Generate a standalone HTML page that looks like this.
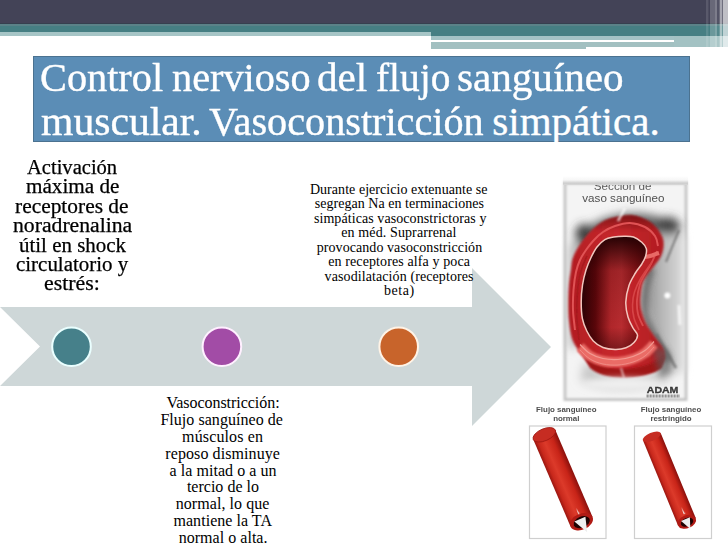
<!DOCTYPE html>
<html><head><meta charset="utf-8">
<style>
html,body{margin:0;padding:0;}
body{width:728px;height:546px;position:relative;overflow:hidden;background:#fff;font-family:"Liberation Serif",serif;}
.a{position:absolute;}
#dark{left:0;top:0;width:728px;height:24px;background:#434357;}
#teal1{left:0;top:24px;width:431px;height:8px;background:#467f83;}
#teal2{left:431px;top:24px;width:297px;height:12px;background:#467f83;}
#lt1{left:0;top:32px;width:431px;height:4px;background:#a6c5c6;}
#lt2{left:431px;top:36px;width:243px;height:3.5px;background:#a4c3c5;}
#lt3{left:431px;top:42px;width:155px;height:6.7px;background:#a2c0c1;}
#lt3b{left:586px;top:42px;width:88px;height:5px;background:#a2c0c1;}
#lt4{left:674px;top:36px;width:54px;height:11px;background:#a3c2c3;}
.st{position:absolute;top:0;height:48px;background:#fff;}
#title{left:33px;top:56px;width:655px;height:84px;box-sizing:content-box;background:#5b8db6;border:1px solid #4b7290;}
.ln{position:absolute;white-space:nowrap;transform-origin:0 0;}
</style></head><body>
<div class="a" id="dark"></div>
<div class="a" id="teal1"></div>
<div class="a" id="teal2"></div>
<div class="a" id="lt1"></div>
<div class="a" id="lt2"></div>
<div class="a" id="lt3"></div>
<div class="a" id="lt3b"></div>
<div class="a" id="lt4"></div>
<div class="a" style="left:0;top:22.5px;width:728px;height:1.5px;background:#36404f"></div>
<div class="a" style="left:0;top:24px;width:728px;height:1.5px;background:#5b8288"></div>
<div class="st" style="left:705.6px;width:2.1px;opacity:0.12"></div>
<div class="st" style="left:707.7px;width:1.8px;opacity:0.05"></div>
<div class="st" style="left:709.5px;width:5.4px;opacity:0.2"></div>
<div class="st" style="left:714.9px;width:2.0px;opacity:0.31"></div>
<div class="st" style="left:716.9px;width:2.1px;opacity:0.09"></div>
<div class="st" style="left:719px;width:0.7px;opacity:0.22"></div>
<div class="st" style="left:719.7px;width:2.3px;opacity:0.53"></div>
<div class="st" style="left:722px;width:1.0px;opacity:0.235"></div>
<div class="st" style="left:723px;width:5.0px;opacity:0.66"></div>
<div class="a" id="title"></div>
<svg class="a" style="left:0;top:0" width="728" height="546">
  <polygon points="0,307 472,307 472,268 551,347 472,426 472,386 0,386 40,346.5" fill="#ced7d8"/>
  <circle cx="71.5" cy="346.7" r="19.3" fill="#46808a" stroke="#eaffff" stroke-width="2"/>
  <circle cx="221.9" cy="346.7" r="19.3" fill="#a24ca6" stroke="#fff0ff" stroke-width="2"/>
  <circle cx="398.7" cy="346.7" r="19.3" fill="#c8642b" stroke="#fff3e6" stroke-width="2"/>
</svg>
<svg class="a" style="left:0;top:0" width="728" height="546" viewBox="0 0 728 546">
  <defs>
    <filter id="b1" filterUnits="userSpaceOnUse" x="0" y="0" width="728" height="546"><feGaussianBlur stdDeviation="1.2"/></filter>
    <filter id="b2" filterUnits="userSpaceOnUse" x="0" y="0" width="728" height="546"><feGaussianBlur stdDeviation="3"/></filter>
    <filter id="b4" filterUnits="userSpaceOnUse" x="0" y="0" width="728" height="546"><feGaussianBlur stdDeviation="5"/></filter>
    <filter id="b05" filterUnits="userSpaceOnUse" x="0" y="0" width="728" height="546"><feGaussianBlur stdDeviation="0.6"/></filter>
    <filter id="b08" filterUnits="userSpaceOnUse" x="0" y="0" width="728" height="546"><feGaussianBlur stdDeviation="0.9"/></filter>
    <linearGradient id="lum" gradientUnits="userSpaceOnUse" x1="583" y1="0" x2="645" y2="0">
      <stop offset="0" stop-color="#300104"/>
      <stop offset="0.2" stop-color="#5a060a"/>
      <stop offset="0.45" stop-color="#b0262a"/>
      <stop offset="0.62" stop-color="#b82c30"/>
      <stop offset="0.85" stop-color="#8e1418"/>
      <stop offset="1" stop-color="#6a0a0e"/>
    </linearGradient>
    <linearGradient id="lumtop" gradientUnits="userSpaceOnUse" x1="0" y1="237" x2="0" y2="350">
      <stop offset="0" stop-color="#200002" stop-opacity="0.95"/>
      <stop offset="0.3" stop-color="#200002" stop-opacity="0.15"/>
      <stop offset="0.8" stop-color="#200002" stop-opacity="0"/>
      <stop offset="1" stop-color="#200002" stop-opacity="0.4"/>
    </linearGradient>
    <linearGradient id="wall" x1="0" y1="0" x2="1" y2="0">
      <stop offset="0" stop-color="#b11d22"/>
      <stop offset="0.5" stop-color="#c8282d"/>
      <stop offset="1" stop-color="#b01c20"/>
    </linearGradient>
    <linearGradient id="rightgray" x1="0" y1="0" x2="1" y2="0">
      <stop offset="0" stop-color="#8a8a8a"/>
      <stop offset="0.4" stop-color="#b4b4b4"/>
      <stop offset="1" stop-color="#dcdcdc"/>
    </linearGradient>
    <linearGradient id="topdark" gradientUnits="userSpaceOnUse" x1="0" y1="214" x2="0" y2="232">
      <stop offset="0" stop-color="#3a0a0a" stop-opacity="0.55"/>
      <stop offset="1" stop-color="#3a0a0a" stop-opacity="0"/>
    </linearGradient>
    <linearGradient id="topband" x1="0" y1="0" x2="0" y2="1">
      <stop offset="0" stop-color="#ffffff"/>
      <stop offset="0.45" stop-color="#f6f6f6"/>
      <stop offset="0.8" stop-color="#cdcdcd"/>
      <stop offset="1" stop-color="#d8d8d8"/>
    </linearGradient>
    <linearGradient id="tube" x1="0" y1="0" x2="1" y2="0">
      <stop offset="0" stop-color="#9a1610"/>
      <stop offset="0.15" stop-color="#c8281c"/>
      <stop offset="0.4" stop-color="#dc3a2a"/>
      <stop offset="0.75" stop-color="#c82418"/>
      <stop offset="1" stop-color="#8a100c"/>
    </linearGradient>
  </defs>
  <!-- big vessel image frame -->
  <rect x="565" y="183" width="121" height="216.5" fill="#f4f4f4" stroke="#c6c6c6" stroke-width="3" filter="url(#b1)"/>
  <!-- gray tissue -->
  <g filter="url(#b4)">
    <path d="M582,232 C600,214 640,206 672,222 L684,240 L666,250 L600,240 Z" fill="#606060"/>
    <ellipse cx="584" cy="236" rx="9" ry="12" fill="#383838"/>
    <ellipse cx="668" cy="226" rx="12" ry="9" fill="#404040"/>
    <path d="M655,232 L684,236 L684,372 L668,374 L652,338 L644,300 L648,262 Z" fill="url(#rightgray)"/>
    <path d="M570,245 L580,238 L578,345 L570,350 Z" fill="#b0b0b0"/>
    <path d="M585,360 C610,385 650,385 668,360 L670,380 C640,392 600,392 580,380 Z" fill="#c8c8c8"/>
  </g>
  <path d="M651,268 C645,285 643,300 645,315 C649,330 659,345 669,362" stroke="#555" stroke-width="6" fill="none" filter="url(#b2)"/>
  <path d="M679,230 L666,262" stroke="#606060" stroke-width="2" fill="none" opacity="0.7" filter="url(#b1)"/>
  <path d="M656,334 L676,368" stroke="#6a6a6a" stroke-width="3" fill="none" opacity="0.7" filter="url(#b1)"/>
  <circle cx="667.4" cy="295.6" r="3" fill="#fff" filter="url(#b1)"/>
  <path d="M679,305 L680,325" stroke="#f4f4f4" stroke-width="3" filter="url(#b08)"/>
  <!-- vessel outer -->
  <path d="M570.9,270.0 C571.5,265.8 571.5,262.5 572.5,259.0 C573.5,255.5 575.2,252.2 577.0,249.0 C578.8,245.8 580.7,243.0 583.0,240.0 C585.3,237.0 588.2,233.6 590.8,231.0 C593.4,228.4 595.7,226.4 598.5,224.5 C601.3,222.6 603.8,220.8 607.4,219.5 C611.0,218.2 615.8,217.2 620.0,216.5 C624.2,215.8 628.5,215.0 632.8,215.5 C637.1,216.0 641.8,217.6 645.6,219.5 C649.5,221.4 653.1,224.1 655.9,227.0 C658.7,229.9 661.0,233.8 662.3,237.0 C663.6,240.2 663.8,242.8 663.6,246.0 C663.4,249.2 662.4,253.1 661.0,256.3 C659.6,259.5 657.2,262.1 655.0,265.0 C652.8,267.9 650.1,270.8 648.0,274.0 C645.9,277.2 643.8,279.3 642.5,284.0 C641.2,288.7 640.5,297.0 640.5,302.0 C640.5,307.0 641.4,310.2 642.5,314.0 C643.6,317.8 644.9,321.2 647.0,325.0 C649.1,328.8 652.2,332.8 655.0,337.0 C657.8,341.2 662.5,345.8 664.0,350.0 C665.5,354.2 665.7,358.5 664.0,362.0 C662.3,365.5 659.7,368.7 654.0,371.0 C648.3,373.3 637.7,375.5 630.0,376.0 C622.3,376.5 614.3,375.5 608.0,374.0 C601.7,372.5 596.5,370.3 592.0,367.0 C587.5,363.7 584.2,358.5 581.0,354.0 C577.8,349.5 574.5,345.4 572.5,340.0 C570.5,334.6 569.7,327.6 569.0,321.3 C568.3,315.0 568.3,308.2 568.3,302.0 C568.3,295.8 568.6,289.3 569.0,284.0 C569.4,278.7 570.3,274.2 570.9,270.0 Z" fill="url(#wall)" filter="url(#b08)"/>
  <path d="M584,356 C600,372 640,374 664,356 L662,368 C645,380 605,382 590,368 Z" fill="#9e1418" filter="url(#b1)"/>
  <path d="M652,345 L668,350 L672,372 L660,378 Z" fill="#5a5a5a" opacity="0.6" filter="url(#b2)"/>
  <ellipse cx="622" cy="384" rx="40" ry="6" fill="#f0f0f0" filter="url(#b2)"/>
  <path d="M570.9,270.0 C571.5,265.8 571.5,262.5 572.5,259.0 C573.5,255.5 575.2,252.2 577.0,249.0 C578.8,245.8 580.7,243.0 583.0,240.0 C585.3,237.0 588.2,233.6 590.8,231.0 C593.4,228.4 595.7,226.4 598.5,224.5 C601.3,222.6 603.8,220.8 607.4,219.5 C611.0,218.2 615.8,217.2 620.0,216.5 C624.2,215.8 628.5,215.0 632.8,215.5 C637.1,216.0 641.8,217.6 645.6,219.5 C649.5,221.4 653.1,224.1 655.9,227.0 C658.7,229.9 661.0,233.8 662.3,237.0 C663.6,240.2 663.8,242.8 663.6,246.0 C663.4,249.2 662.4,253.1 661.0,256.3 C659.6,259.5 657.2,262.1 655.0,265.0 C652.8,267.9 650.1,270.8 648.0,274.0 C645.9,277.2 643.8,279.3 642.5,284.0 C641.2,288.7 640.5,297.0 640.5,302.0 C640.5,307.0 641.4,310.2 642.5,314.0 C643.6,317.8 644.9,321.2 647.0,325.0 C649.1,328.8 652.2,332.8 655.0,337.0 C657.8,341.2 662.5,345.8 664.0,350.0 C665.5,354.2 665.7,358.5 664.0,362.0 C662.3,365.5 659.7,368.7 654.0,371.0 C648.3,373.3 637.7,375.5 630.0,376.0 C622.3,376.5 614.3,375.5 608.0,374.0 C601.7,372.5 596.5,370.3 592.0,367.0 C587.5,363.7 584.2,358.5 581.0,354.0 C577.8,349.5 574.5,345.4 572.5,340.0 C570.5,334.6 569.7,327.6 569.0,321.3 C568.3,315.0 568.3,308.2 568.3,302.0 C568.3,295.8 568.6,289.3 569.0,284.0 C569.4,278.7 570.3,274.2 570.9,270.0 Z" fill="url(#topdark)" filter="url(#b08)"/>
  <!-- wall bands -->
  <path d="M575.0,330.0 C574.7,326.7 573.2,316.7 573.0,310.0 C572.8,303.3 573.0,296.3 573.5,290.0 C574.0,283.7 574.9,277.0 576.0,272.0 C577.1,267.0 578.3,263.7 580.0,260.0 C581.7,256.3 583.7,253.3 586.0,250.0 C588.3,246.7 591.2,243.0 594.0,240.0 C596.8,237.0 599.5,234.3 603.0,232.0 C606.5,229.7 610.5,227.5 615.0,226.0 C619.5,224.5 625.0,222.8 630.0,223.0 C635.0,223.2 640.8,224.8 645.0,227.0 C649.2,229.2 652.8,232.8 655.0,236.0 C657.2,239.2 657.5,244.3 658.0,246.0 " stroke="#e05254" stroke-width="2" fill="none" filter="url(#b05)"/>
  <path d="M657.0,251.0 C656.0,253.2 653.0,260.2 651.0,264.0 C649.0,267.8 646.8,270.7 645.0,274.0 C643.2,277.3 641.3,279.7 640.0,284.0 C638.7,288.3 637.3,295.0 637.0,300.0 C636.7,305.0 637.0,309.7 638.0,314.0 C639.0,318.3 642.2,324.0 643.0,326.0 " stroke="#d94a4c" stroke-width="1.8" fill="none" filter="url(#b05)"/>
  <path d="M652.0,262.0 C650.2,264.7 643.9,273.0 641.0,278.0 C638.1,283.0 635.9,287.5 634.5,292.0 C633.1,296.5 632.6,300.7 632.5,305.0 C632.4,309.3 632.9,313.8 634.0,318.0 C635.1,322.2 638.2,328.0 639.0,330.0 " stroke="#d64446" stroke-width="1.6" fill="none" filter="url(#b05)"/>
  <path d="M579.0,340.0 C578.7,336.7 577.3,326.7 577.0,320.0 C576.7,313.3 576.8,306.3 577.0,300.0 C577.2,293.7 577.7,287.3 578.5,282.0 C579.3,276.7 580.6,272.3 582.0,268.0 C583.4,263.7 586.2,258.0 587.0,256.0 " stroke="#a81a1e" stroke-width="1.6" fill="none" filter="url(#b05)"/>
  <path d="M580.0,346.0 C581.7,347.5 586.2,352.7 590.0,355.0 C593.8,357.3 598.3,359.0 603.0,360.0 C607.7,361.0 613.0,361.3 618.0,361.0 C623.0,360.7 628.5,359.5 633.0,358.0 C637.5,356.5 641.5,354.5 645.0,352.0 C648.5,349.5 652.5,344.5 654.0,343.0 " stroke="#ea6c66" stroke-width="10" fill="none" transform="translate(0,1)" filter="url(#b08)"/>
  <path d="M580.0,346.0 C581.7,347.5 586.2,352.7 590.0,355.0 C593.8,357.3 598.3,359.0 603.0,360.0 C607.7,361.0 613.0,361.3 618.0,361.0 C623.0,360.7 628.5,359.5 633.0,358.0 C637.5,356.5 641.5,354.5 645.0,352.0 C648.5,349.5 652.5,344.5 654.0,343.0 " stroke="#f39a92" stroke-width="1.2" fill="none" transform="translate(0,-1.5)" filter="url(#b05)"/>
  <path d="M580.0,346.0 C581.7,347.5 586.2,352.7 590.0,355.0 C593.8,357.3 598.3,359.0 603.0,360.0 C607.7,361.0 613.0,361.3 618.0,361.0 C623.0,360.7 628.5,359.5 633.0,358.0 C637.5,356.5 641.5,354.5 645.0,352.0 C648.5,349.5 652.5,344.5 654.0,343.0 " stroke="#f08a84" stroke-width="1" fill="none" transform="translate(0,4)" filter="url(#b05)"/>
  <path d="M645.0,257.0 C646.2,256.8 649.7,256.2 652.0,255.5 C654.3,254.8 657.8,253.4 659.0,253.0 " stroke="#e86a66" stroke-width="4" fill="none" filter="url(#b05)"/>
  <!-- lumen -->
  <path d="M604.9,239.6 C607.7,237.9 610.6,237.6 613.8,237.0 C617.0,236.4 620.7,236.2 624.0,236.2 C627.3,236.2 630.5,236.0 633.5,237.0 C636.5,238.0 639.7,240.3 641.8,242.2 C643.9,244.1 645.7,246.2 646.3,248.6 C646.9,250.9 646.4,253.7 645.6,256.3 C644.9,258.9 643.5,261.2 641.8,264.0 C640.1,266.8 637.5,269.4 635.4,273.0 C633.3,276.6 630.6,280.6 629.0,285.4 C627.4,290.2 626.0,296.7 625.8,302.0 C625.6,307.3 626.8,312.7 628.0,317.0 C629.2,321.3 631.4,325.0 633.0,328.0 C634.6,331.0 637.3,332.6 637.5,335.0 C637.7,337.4 635.9,340.4 634.0,342.5 C632.1,344.6 629.2,346.6 626.0,347.8 C622.8,349.0 618.8,349.6 615.0,349.5 C611.2,349.4 606.6,348.9 603.0,347.5 C599.4,346.1 596.0,343.8 593.3,341.0 C590.6,338.2 588.6,334.7 586.8,331.0 C585.0,327.3 583.3,323.5 582.4,318.7 C581.5,313.9 581.2,307.6 581.2,302.0 C581.2,296.4 581.7,290.3 582.5,285.0 C583.3,279.7 584.6,274.5 586.0,270.0 C587.4,265.5 589.0,261.8 590.8,258.0 C592.6,254.2 594.6,250.1 597.0,247.0 C599.4,243.9 602.1,241.3 604.9,239.6 Z" fill="url(#lum)"/>
  <path d="M604.9,239.6 C607.7,237.9 610.6,237.6 613.8,237.0 C617.0,236.4 620.7,236.2 624.0,236.2 C627.3,236.2 630.5,236.0 633.5,237.0 C636.5,238.0 639.7,240.3 641.8,242.2 C643.9,244.1 645.7,246.2 646.3,248.6 C646.9,250.9 646.4,253.7 645.6,256.3 C644.9,258.9 643.5,261.2 641.8,264.0 C640.1,266.8 637.5,269.4 635.4,273.0 C633.3,276.6 630.6,280.6 629.0,285.4 C627.4,290.2 626.0,296.7 625.8,302.0 C625.6,307.3 626.8,312.7 628.0,317.0 C629.2,321.3 631.4,325.0 633.0,328.0 C634.6,331.0 637.3,332.6 637.5,335.0 C637.7,337.4 635.9,340.4 634.0,342.5 C632.1,344.6 629.2,346.6 626.0,347.8 C622.8,349.0 618.8,349.6 615.0,349.5 C611.2,349.4 606.6,348.9 603.0,347.5 C599.4,346.1 596.0,343.8 593.3,341.0 C590.6,338.2 588.6,334.7 586.8,331.0 C585.0,327.3 583.3,323.5 582.4,318.7 C581.5,313.9 581.2,307.6 581.2,302.0 C581.2,296.4 581.7,290.3 582.5,285.0 C583.3,279.7 584.6,274.5 586.0,270.0 C587.4,265.5 589.0,261.8 590.8,258.0 C592.6,254.2 594.6,250.1 597.0,247.0 C599.4,243.9 602.1,241.3 604.9,239.6 Z" fill="url(#lumtop)"/>
  <path d="M604.9,239.6 C607.7,237.9 610.6,237.6 613.8,237.0 C617.0,236.4 620.7,236.2 624.0,236.2 C627.3,236.2 630.5,236.0 633.5,237.0 C636.5,238.0 639.7,240.3 641.8,242.2 C643.9,244.1 645.7,246.2 646.3,248.6 C646.9,250.9 646.4,253.7 645.6,256.3 C644.9,258.9 643.5,261.2 641.8,264.0 C640.1,266.8 637.5,269.4 635.4,273.0 C633.3,276.6 630.6,280.6 629.0,285.4 C627.4,290.2 626.0,296.7 625.8,302.0 C625.6,307.3 626.8,312.7 628.0,317.0 C629.2,321.3 631.4,325.0 633.0,328.0 C634.6,331.0 637.3,332.6 637.5,335.0 C637.7,337.4 635.9,340.4 634.0,342.5 C632.1,344.6 629.2,346.6 626.0,347.8 C622.8,349.0 618.8,349.6 615.0,349.5 C611.2,349.4 606.6,348.9 603.0,347.5 C599.4,346.1 596.0,343.8 593.3,341.0 C590.6,338.2 588.6,334.7 586.8,331.0 C585.0,327.3 583.3,323.5 582.4,318.7 C581.5,313.9 581.2,307.6 581.2,302.0 C581.2,296.4 581.7,290.3 582.5,285.0 C583.3,279.7 584.6,274.5 586.0,270.0 C587.4,265.5 589.0,261.8 590.8,258.0 C592.6,254.2 594.6,250.1 597.0,247.0 C599.4,243.9 602.1,241.3 604.9,239.6 Z" fill="none" stroke="#f3c6be" stroke-width="1.5" filter="url(#b05)"/>
  <!-- highlight streaks -->
  <path d="M625,208 L618,221" stroke="#ffffff" stroke-width="2.5" opacity="0.75" filter="url(#b08)"/>
  <path d="M621,368 L624,378" stroke="#ffffff" stroke-width="2" opacity="0.6" filter="url(#b08)"/>
  <!-- texts -->
  <text x="593.8" y="189.5" textLength="57.7" lengthAdjust="spacingAndGlyphs" font-family="Liberation Sans" font-size="11" fill="#5c5c5c" filter="url(#b05)">Sección de</text>
  <rect x="563" y="176" width="125" height="9" fill="url(#topband)" filter="url(#b05)"/>
  <text x="582.3" y="202.4" textLength="82.2" lengthAdjust="spacingAndGlyphs" font-family="Liberation Sans" font-size="11" fill="#505050" filter="url(#b05)">vaso sanguíneo</text>
  <text x="646.8" y="392.6" textLength="31.6" lengthAdjust="spacingAndGlyphs" font-family="Liberation Sans" font-weight="bold" font-size="9.4" fill="#3a3a3a" stroke="#3a3a3a" stroke-width="0.35" filter="url(#b05)">ADAM</text>
  <path d="M646.5,396 L680,396" stroke="#8a8a8a" stroke-width="3" stroke-dasharray="2.2 0.8" opacity="0.9"/>

  <!-- labels -->
  <g font-family="Liberation Sans" font-weight="bold" font-size="7.9" fill="#4e4e4e" text-anchor="middle" filter="url(#b05)">
    <text x="566.3" y="412">Flujo sanguíneo</text>
    <text x="566.3" y="421">normal</text>
    <text x="671" y="412">Flujo sanguíneo</text>
    <text x="671" y="421">restringido</text>
  </g>
  <!-- tube boxes -->
  <rect x="529.5" y="426" width="76.5" height="112.5" fill="#fff" stroke="#cfcfcf" stroke-width="1.2"/>
  <rect x="634.5" y="426" width="77" height="112.5" fill="#fff" stroke="#cfcfcf" stroke-width="1.2"/>
  <!-- tube 1 -->
  <g transform="translate(544.3,434.8) rotate(-23.2)">
    <rect x="-12" y="0" width="24" height="94.5" fill="url(#tube)"/>
    <ellipse cx="0" cy="0" rx="12" ry="6" fill="#c62c22" stroke="#a01812" stroke-width="0.8"/>
    <ellipse cx="0" cy="94.5" rx="12" ry="8" fill="#b01a14"/>
    <ellipse cx="0" cy="95" rx="8.5" ry="5.5" fill="#1e0202"/>
    <path d="M-3.5,68.5 L-2.5,68.5 L1.5,86.5 L-3.5,86.5 Z" fill="#f6f6f6" opacity="0.9" filter="url(#b05)"/>
    <path d="M-6.5,91.5 L5.5,91.5 L1,106.5 Z" fill="#eeeeee"/>
  </g>
  <!-- tube 2 -->
  <g transform="translate(651.8,436.7) rotate(-22.4)">
    <rect x="-9.6" y="0" width="19.2" height="92" fill="url(#tube)"/>
    <ellipse cx="0" cy="0" rx="9.6" ry="4" fill="#c62c22"/>
    <ellipse cx="0" cy="92" rx="9.6" ry="6.5" fill="#b01a14"/>
    <ellipse cx="0" cy="92.5" rx="6.5" ry="4.2" fill="#1e0202"/>
    <path d="M-3,66 L-2,66 L1.5,84 L-3,84 Z" fill="#f6f6f6" opacity="0.9" filter="url(#b05)"/>
    <path d="M-5,89 L4.5,89 L0.5,100 Z" fill="#eeeeee"/>
  </g>
</svg>
<div class="ln" style="left:40.43px;top:57.00px;font-size:41px;line-height:41px;color:#fff;transform:scaleX(0.9829);-webkit-text-stroke:0.4px #fff">Control</div>
<div class="ln" style="left:171.72px;top:57.00px;font-size:41px;line-height:41px;color:#fff;transform:scaleX(0.9820);-webkit-text-stroke:0.4px #fff">nervioso</div>
<div class="ln" style="left:316.80px;top:57.00px;font-size:41px;line-height:41px;color:#fff;transform:scaleX(1.0041);-webkit-text-stroke:0.4px #fff">del</div>
<div class="ln" style="left:375.64px;top:57.00px;font-size:41px;line-height:41px;color:#fff;transform:scaleX(0.9600);-webkit-text-stroke:0.4px #fff">flujo</div>
<div class="ln" style="left:456.60px;top:57.00px;font-size:41px;line-height:41px;color:#fff;transform:scaleX(1.0025);-webkit-text-stroke:0.4px #fff">sanguíneo</div>
<div class="ln" style="left:40.98px;top:101.00px;font-size:41px;line-height:41px;color:#fff;transform:scaleX(1.0155);-webkit-text-stroke:0.4px #fff">muscular.</div>
<div class="ln" style="left:209.30px;top:101.00px;font-size:41px;line-height:41px;color:#fff;transform:scaleX(0.9807);-webkit-text-stroke:0.4px #fff">Vasoconstricción</div>
<div class="ln" style="left:492.30px;top:101.00px;font-size:41px;line-height:41px;color:#fff;transform:scaleX(1.0000);-webkit-text-stroke:0.4px #fff">simpática.</div>
<div class="ln" style="left:26.90px;top:156.70px;font-size:20px;line-height:20px;color:#000;transform:scaleX(1.0273);-webkit-text-stroke:0.25px #000">Activación</div>
<div class="ln" style="left:25.60px;top:176.15px;font-size:20px;line-height:20px;color:#000;transform:scaleX(1.0580);-webkit-text-stroke:0.25px #000">máxima de</div>
<div class="ln" style="left:15.40px;top:195.60px;font-size:20px;line-height:20px;color:#000;transform:scaleX(1.0708);-webkit-text-stroke:0.25px #000">receptores de</div>
<div class="ln" style="left:12.50px;top:215.05px;font-size:20px;line-height:20px;color:#000;transform:scaleX(1.0845);-webkit-text-stroke:0.25px #000">noradrenalina</div>
<div class="ln" style="left:18.80px;top:234.50px;font-size:20px;line-height:20px;color:#000;transform:scaleX(1.0471);-webkit-text-stroke:0.25px #000">útil en shock</div>
<div class="ln" style="left:15.85px;top:253.95px;font-size:20px;line-height:20px;color:#000;transform:scaleX(1.0472);-webkit-text-stroke:0.25px #000">circulatorio y</div>
<div class="ln" style="left:43.51px;top:273.40px;font-size:20px;line-height:20px;color:#000;transform:scaleX(1.0918);-webkit-text-stroke:0.25px #000">estrés:</div>
<div class="ln" style="left:309.90px;top:182.70px;font-size:14px;line-height:14px;color:#000;letter-spacing:0.050px">Durante ejercicio extenuante se</div>
<div class="ln" style="left:314.80px;top:197.24px;font-size:14px;line-height:14px;color:#000;letter-spacing:0.033px">segregan Na en terminaciones</div>
<div class="ln" style="left:313.90px;top:211.78px;font-size:14px;line-height:14px;color:#000;letter-spacing:0.076px">simpáticas vasoconstrictoras y</div>
<div class="ln" style="left:341.30px;top:226.32px;font-size:14px;line-height:14px;color:#000;letter-spacing:0.111px">en méd. Suprarrenal</div>
<div class="ln" style="left:316.70px;top:240.86px;font-size:14px;line-height:14px;color:#000;letter-spacing:0.069px">provocando vasoconstricción</div>
<div class="ln" style="left:328.20px;top:255.40px;font-size:14px;line-height:14px;color:#000;letter-spacing:0.108px">en receptores alfa y poca</div>
<div class="ln" style="left:324.60px;top:269.94px;font-size:14px;line-height:14px;color:#000;letter-spacing:0.096px">vasodilatación (receptores</div>
<div class="ln" style="left:384.00px;top:284.48px;font-size:14px;line-height:14px;color:#000;letter-spacing:0.575px">beta)</div>
<div class="ln" style="left:166.40px;top:395.40px;font-size:16px;line-height:16px;color:#000;letter-spacing:-0.031px">Vasoconstricción:</div>
<div class="ln" style="left:160.40px;top:412.20px;font-size:16px;line-height:16px;color:#000;letter-spacing:0.041px">Flujo sanguíneo de</div>
<div class="ln" style="left:182.10px;top:429.00px;font-size:16px;line-height:16px;color:#000;letter-spacing:0.130px">músculos en</div>
<div class="ln" style="left:165.30px;top:445.80px;font-size:16px;line-height:16px;color:#000;letter-spacing:0.087px">reposo disminuye</div>
<div class="ln" style="left:169.50px;top:462.60px;font-size:16px;line-height:16px;color:#000;letter-spacing:0.056px">a la mitad o a un</div>
<div class="ln" style="left:186.90px;top:479.40px;font-size:16px;line-height:16px;color:#000;letter-spacing:0.009px">tercio de lo</div>
<div class="ln" style="left:175.70px;top:496.20px;font-size:16px;line-height:16px;color:#000;letter-spacing:0.069px">normal, lo que</div>
<div class="ln" style="left:173.50px;top:513.00px;font-size:16px;line-height:16px;color:#000;letter-spacing:0.038px">mantiene la TA</div>
<div class="ln" style="left:178.70px;top:529.80px;font-size:16px;line-height:16px;color:#000;letter-spacing:0.031px">normal o alta.</div>



</body></html>
